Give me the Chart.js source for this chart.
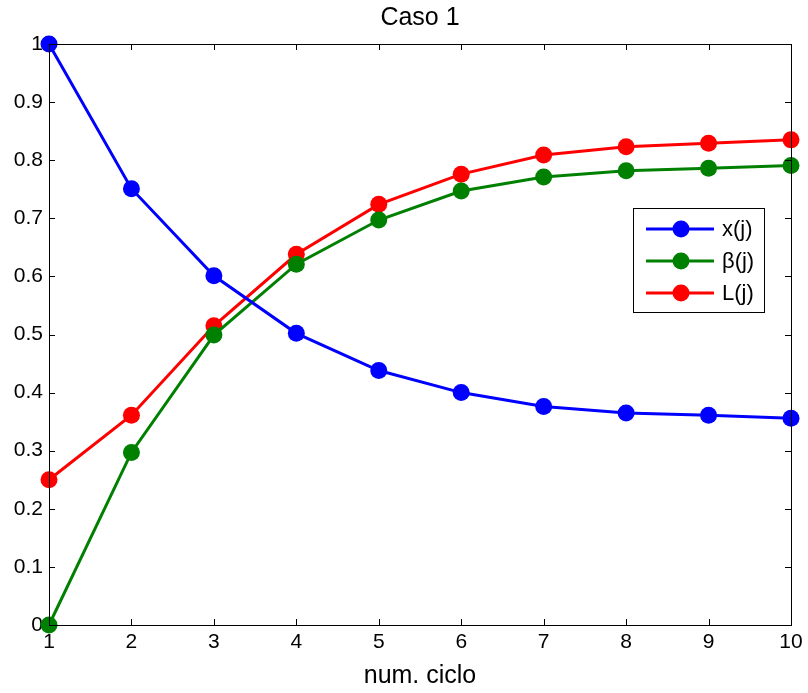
<!DOCTYPE html>
<html>
<head>
<meta charset="utf-8">
<script src="https://cdn.jsdelivr.net/npm/chart.js@4/dist/chart.umd.min.js"></script>
<style>
  html, body { margin: 0; padding: 0; background: #fff; }
  #wrap { width: 808px; height: 693px; }
</style>
</head>
<body>
<div id="wrap"><canvas id="chart" width="808" height="693"></canvas></div>
<script>
const cycles = [1, 2, 3, 4, 5, 6, 7, 8, 9, 10];
const xVals = [1.0, 0.751, 0.601, 0.502, 0.438, 0.400, 0.376, 0.365, 0.361, 0.356];
const betaVals = [0.0, 0.297, 0.499, 0.621, 0.697, 0.747, 0.771, 0.782, 0.786, 0.791];
const lVals = [0.250, 0.361, 0.515, 0.638, 0.724, 0.776, 0.809, 0.823, 0.829, 0.835];
const seriesLabels = ["x(j)", "\u03b2(j)", "L(j)"];
const seriesColors = ["#0000ff", "#008000", "#ff0000"];
const yTicks = [0, 0.1, 0.2, 0.3, 0.4, 0.5, 0.6, 0.7, 0.8, 0.9, 1];

const FONT = "'Liberation Sans', Arial, sans-serif";

function toPoints(vals) {
  return vals.map((v, i) => ({ x: cycles[i], y: v }));
}

const boxPlugin = {
  id: "matlabBox",
  afterDraw(chart) {
    const { ctx, chartArea: a, scales } = chart;
    ctx.save();
    ctx.strokeStyle = "#000";
    ctx.lineWidth = 1;
    ctx.strokeRect(Math.round(a.left) + 0.5, Math.round(a.top) + 0.5, Math.round(a.right - a.left), Math.round(a.bottom - a.top));
    const tl = 6;
    ctx.beginPath();
    cycles.forEach((c) => {
      const px = Math.round(scales.x.getPixelForValue(c)) + 0.5;
      ctx.moveTo(px, a.bottom); ctx.lineTo(px, a.bottom - tl);
      ctx.moveTo(px, a.top); ctx.lineTo(px, a.top + tl);
    });
    yTicks.forEach((t) => {
      const py = Math.round(scales.y.getPixelForValue(t)) + 0.5;
      ctx.moveTo(a.left, py); ctx.lineTo(a.left + tl, py);
      ctx.moveTo(a.right, py); ctx.lineTo(a.right - tl, py);
    });
    ctx.stroke();
    ctx.restore();
  },
  afterDatasetsDraw(chart) {
    // legend box inside the axes
    const { ctx } = chart;
    const bx = 633, by = 208, bw = 131, bh = 104;
    ctx.save();
    ctx.fillStyle = "#fff";
    ctx.fillRect(bx, by, bw, bh);
    ctx.strokeStyle = "#000";
    ctx.lineWidth = 1;
    ctx.strokeRect(bx + 0.5, by + 0.5, bw, bh);
    const rows = [229, 261, 293];
    chart.data.datasets.forEach((ds, i) => {
      const y = rows[i];
      ctx.strokeStyle = ds.borderColor;
      ctx.lineWidth = 3;
      ctx.beginPath();
      ctx.moveTo(646, y); ctx.lineTo(714, y);
      ctx.stroke();
      ctx.fillStyle = ds.backgroundColor;
      ctx.beginPath();
      ctx.arc(681, y, 8.5, 0, Math.PI * 2);
      ctx.fill();
      ctx.fillStyle = "#000";
      ctx.font = "22px " + FONT;
      ctx.textBaseline = "middle";
      ctx.textAlign = "left";
      ctx.fillText(ds.label, 722, y + 1);
    });
    ctx.restore();
  }
};

new Chart(document.getElementById("chart"), {
  type: "line",
  data: {
    datasets: [xVals, betaVals, lVals].map((vals, i) => ({
      label: seriesLabels[i],
      data: toPoints(vals),
      borderColor: seriesColors[i],
      backgroundColor: seriesColors[i],
      pointBackgroundColor: seriesColors[i],
      pointBorderColor: seriesColors[i],
      borderWidth: 3,
      pointRadius: 8.5,
      pointBorderWidth: 0,
      tension: 0,
      clip: false,
    })),
  },
  options: {
    responsive: false,
    animation: false,
    layout: { padding: { left: 0, right: 17, top: 0, bottom: 0 } },
    plugins: {
      legend: { display: false },
      tooltip: { enabled: false },
      title: {
        display: true,
        fullSize: false,
        text: "Caso 1",
        color: "#000",
        font: { family: FONT, size: 25, weight: "normal" },
        padding: { top: 3, bottom: 11 },
      },
    },
    scales: {
      x: {
        type: "linear",
        min: 1,
        max: 10,
        grid: { display: false, drawTicks: false },
        border: { display: false },
        ticks: {
          stepSize: 1,
          color: "#000",
          padding: 5,
          font: { family: FONT, size: 21 },
        },
        title: {
          display: true,
          text: "num. ciclo",
          color: "#000",
          font: { family: FONT, size: 25 },
          padding: { top: 2, bottom: 2 },
        },
        afterFit(scale) { scale.height = 68; },
      },
      y: {
        min: 0,
        max: 1,
        grid: { display: false, drawTicks: false },
        border: { display: false },
        afterBuildTicks(scale) { scale.ticks = yTicks.map((v) => ({ value: v })); },
        ticks: {
          color: "#000",
          padding: 6,
          font: { family: FONT, size: 21 },
          callback: (v) => String(Math.round(v * 10) / 10),
        },
        afterFit(scale) { scale.width = 49; },
      },
    },
  },
  plugins: [boxPlugin],
});
</script>
</body>
</html>
